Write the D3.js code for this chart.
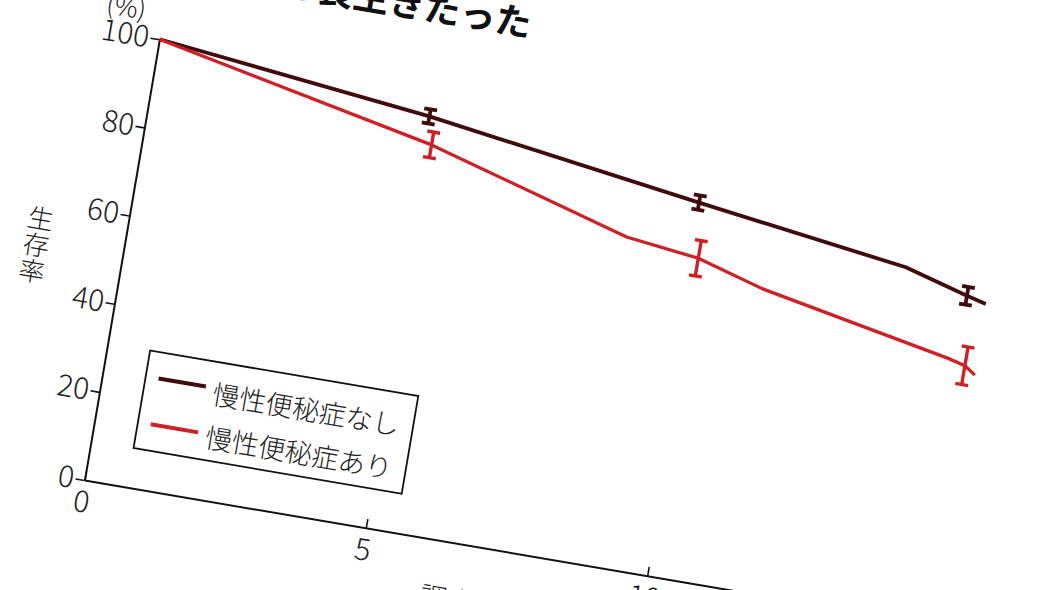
<!DOCTYPE html>
<html><head><meta charset="utf-8">
<script src="https://cdn.jsdelivr.net/npm/d3@7/dist/d3.min.js"></script>
<style>
body{margin:0;background:#fff;}
svg{display:block;}
text{font-family:"Noto Sans CJK JP","Noto Sans",sans-serif;}
</style>
</head><body>
<svg id="chart" width="1050" height="590"></svg>
<script>
// ---- data ----
const seriesNames = ["慢性便秘症なし", "慢性便秘症あり"];
const yearsNone = [0, 4.89, 9.80, 13.56, 14.70, 15.05];
const survNone  = [100, 93.1, 84.2, 77.7, 73.7, 72.6];
const yearsWith = [0, 5.01, 8.65, 9.95, 11.14, 14.56, 14.87, 15.07];
const survWith  = [100, 86.9, 73.9, 71.9, 67.6, 59.2, 58.2, 56.5];
const errYearsNone = [4.89, 9.80, 14.70];
const errMidNone   = [93.1, 84.2, 73.7];
const errHalfNone  = [1.6, 1.6, 2.0];
const errYearsWith = [5.01, 9.95, 14.87];
const errMidWith   = [86.9, 71.9, 58.2];
const errHalfWith  = [2.9, 4.0, 4.25];
const xTicks = [0, 5, 10, 15];
const yTicks = [0, 20, 40, 60, 80, 100];
const titleText = "慢性便秘症のない人は長生きたった";
const xLabel = "調査期間（年）";
const yLabelChars = ["生", "存", "率"];
const unitLabel = "(%)";

const colors = ["#400b0e", "#cd2027"];

const svg = d3.select("#chart");
const g = svg.append("g").attr("transform", "translate(84.5,480) rotate(9.65)");

const x = d3.scaleLinear().domain([0, 16]).range([0, 16 * 57.08]);
const y = d3.scaleLinear().domain([0, 100]).range([0, -447.1]);

// axes
const yAxis = g.append("g")
  .call(d3.axisLeft(y).tickValues(yTicks).tickSizeInner(9).tickSizeOuter(0).tickPadding(1.5));
const xAxis = g.append("g")
  .call(d3.axisBottom(x).tickValues(xTicks).tickSizeInner(-9).tickSizeOuter(0).tickPadding(11));
[yAxis, xAxis].forEach(a => {
  a.select(".domain").attr("stroke", "#111").attr("stroke-width", 2);
  a.selectAll(".tick line").attr("stroke", "#111").attr("stroke-width", 1.6);
  a.selectAll(".tick text").attr("fill", "#222").attr("font-size", 30)
    .attr("font-weight", 300).style("font-family", "'Noto Sans CJK JP','Noto Sans',sans-serif");
});

// axis labels
g.append("text").attr("x", -38).attr("y", y(100) - 17).attr("text-anchor", "middle")
  .attr("font-size", 26).attr("font-weight", 300).attr("fill", "#222").text(unitLabel);
yLabelChars.forEach((ch, i) => {
  g.append("text").attr("x", -87).attr("y", y(50) - 27 + i * 26.6 + 9.8)
    .attr("text-anchor", "middle").attr("font-size", 26).attr("font-weight", 300)
    .attr("fill", "#222").text(ch);
});
g.append("text").attr("x", 350).attr("y", 67).attr("font-size", 27).attr("font-weight", 300)
  .attr("fill", "#222").text(xLabel);

// title
g.append("text").attr("x", 364).attr("y", -511).attr("text-anchor", "end")
  .attr("font-size", 36).attr("font-weight", 700).attr("fill", "#111").text(titleText);

// lines
const line = d3.line().x(d => x(d[0])).y(d => y(d[1]));
const dataNone = yearsNone.map((t, i) => [t, survNone[i]]);
const dataWith = yearsWith.map((t, i) => [t, survWith[i]]);

function errBars(ts, mids, halfs, color, w) {
  const eg = g.append("g").attr("stroke", color).attr("stroke-width", w).attr("fill", "none");
  ts.forEach((t, i) => {
    const cx = x(t), y1 = y(mids[i] + halfs[i]), y2 = y(mids[i] - halfs[i]);
    eg.append("line").attr("x1", cx).attr("x2", cx).attr("y1", y1).attr("y2", y2);
    eg.append("line").attr("x1", cx - 6.5).attr("x2", cx + 6.5).attr("y1", y1).attr("y2", y1);
    eg.append("line").attr("x1", cx - 6.5).attr("x2", cx + 6.5).attr("y1", y2).attr("y2", y2);
  });
}

g.append("path").datum(dataNone).attr("d", line).attr("fill", "none")
  .attr("stroke", colors[0]).attr("stroke-width", 3.8).attr("stroke-linejoin", "round");
errBars(errYearsNone, errMidNone, errHalfNone, colors[0], 3.8);
g.append("path").datum(dataWith).attr("d", line).attr("fill", "none")
  .attr("stroke", colors[1]).attr("stroke-width", 3.3).attr("stroke-linejoin", "round");
errBars(errYearsWith, errMidWith, errHalfWith, colors[1], 3.4);

// legend
const lg = g.append("g");
lg.append("rect").attr("x", 43).attr("y", -138.7).attr("width", 272).attr("height", 99)
  .attr("fill", "#fff").attr("stroke", "#111").attr("stroke-width", 1.8);
const legY = [-112.5, -66];
const legTextY = [-96.5, -52.5];
seriesNames.forEach((name, i) => {
  lg.append("line").attr("x1", 56).attr("x2", 104).attr("y1", legY[i]).attr("y2", legY[i])
    .attr("stroke", colors[i]).attr("stroke-width", 4);
  lg.append("text").attr("x", 112).attr("y", legTextY[i]).attr("font-size", 27)
    .attr("font-weight", 300).attr("fill", "#222").text(name);
});
</script>
</body></html>
